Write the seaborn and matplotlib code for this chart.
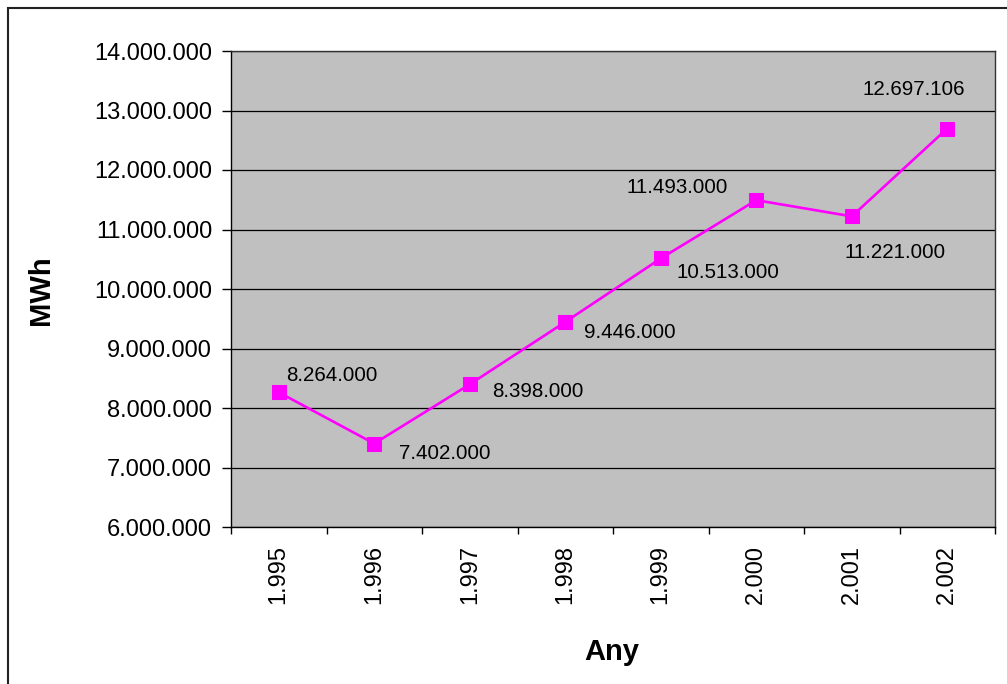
import numpy as np
import pandas as pd
import matplotlib
matplotlib.use("Agg")
from matplotlib import pyplot as plt
from matplotlib.ticker import FuncFormatter, FixedLocator
from matplotlib.patches import Rectangle
import seaborn as sns

years = ["1.995", "1.996", "1.997", "1.998", "1.999", "2.000", "2.001", "2.002"]
mwh = [8264000, 7402000, 8398000, 9446000, 10513000, 11493000, 11221000, 12697106]
value_labels = ["8.264.000", "7.402.000", "8.398.000", "9.446.000",
                "10.513.000", "11.493.000", "11.221.000", "12.697.106"]

# label offsets in pixels (dx, dy) and horizontal alignment, like the Excel layout
label_offsets = [(7, 17, "left"), (25, -10, "left"), (22, -7, "left"), (19, -11, "left"),
                 (16, -14, "left"), (-79, 13, "center"), (43, -36, "center"), (-33, 39, "center")]

sns.set_style("white")
plt.rcParams["font.family"] = ["Liberation Sans", "DejaVu Sans"]
plt.rcParams.update({"text.color": "black", "axes.labelcolor": "black",
                     "xtick.color": "black", "ytick.color": "black"})

df = pd.DataFrame({"Any": years, "MWh": mwh})

fig = plt.figure(figsize=(10.07, 6.84), dpi=100)
ax = fig.add_axes([231 / 1007, 157 / 684, 764 / 1007, 476 / 684])
ax.set_facecolor("#c0c0c0")

sns.lineplot(data=df, x="Any", y="MWh", ax=ax, color="#ff00ff", linewidth=1.9,
             marker="s", markersize=10, markeredgecolor="#ff00ff", zorder=3)

for i, (lab, (dx, dy, ha)) in enumerate(zip(value_labels, label_offsets)):
    ax.annotate(lab, (i, mwh[i]), xytext=(dx, dy), textcoords="offset pixels",
                ha=ha, va="center", fontsize=14.8, color="black")

ax.set_xlim(-0.5, len(years) - 0.5)
ax.set_ylim(6000000, 14000000)
ax.set_yticks(np.arange(6000000, 14000001, 1000000))
ax.yaxis.set_major_formatter(FuncFormatter(lambda v, p: f"{v:,.0f}".replace(",", ".")))
ax.grid(axis="y", color="black", linewidth=0.9)
ax.set_axisbelow(True)

ax.xaxis.set_minor_locator(FixedLocator(np.arange(-0.5, len(years), 1)))
ax.tick_params(axis="x", which="major", length=0, pad=13, labelsize=17, labelrotation=90,
               labelcolor="black")
ax.tick_params(axis="x", which="minor", length=5, width=1, color="black", direction="out", bottom=True)
ax.tick_params(axis="y", length=6.5, width=1, color="black", direction="out", pad=7,
               labelsize=17, left=True, labelcolor="black")

for s in ax.spines.values():
    s.set_color("#333333")
    s.set_linewidth(1)
ax.spines["left"].set_color("black")
ax.spines["bottom"].set_color("black")

ax.set_xlabel("Any", fontsize=21, fontweight="bold", color="black")
ax.set_ylabel("MWh", fontsize=21, fontweight="bold", color="black")
ax.xaxis.set_label_coords((612 - 231) / 764, -(638 - 527) / 476)
ax.yaxis.set_label_coords(-(231 - 55) / 764, (527 - 290) / 476)

# chart border
fig.patches.append(Rectangle((8 / 1007, -0.05), 1.1, 1 - 8 / 684 + 0.05,
                             transform=fig.transFigure, fill=False,
                             edgecolor="#222222", linewidth=1.5))

fig.savefig("out.png", dpi=100, facecolor="white")
